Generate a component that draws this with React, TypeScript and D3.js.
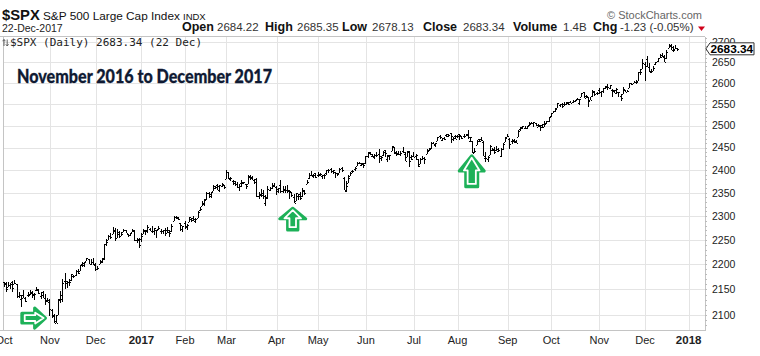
import React from "react";
import * as d3 from "d3";

type OHLC = [number, number, number, number]; // open, high, low, close

// ---- Daily OHLC, S&P 500 ($SPX), Oct 2016 .. 22 Dec 2017 ----
const oct2016: OHLC[] = [
  [2164.3, 2164.4, 2154.8, 2161.2], [2163.4, 2165.5, 2144.0, 2150.5], [2155.2, 2163.9, 2155.2, 2159.7],
  [2158.2, 2162.9, 2150.3, 2160.8], [2164.2, 2165.9, 2144.9, 2153.7], [2160.4, 2169.6, 2160.4, 2163.7],
  [2161.4, 2161.6, 2132.8, 2136.7], [2137.7, 2145.4, 2132.8, 2139.2], [2130.3, 2138.2, 2114.7, 2132.6],
  [2139.7, 2149.2, 2133.0, 2133.0], [2132.9, 2135.6, 2124.4, 2126.5], [2138.3, 2144.4, 2135.5, 2139.6],
  [2140.8, 2148.4, 2138.2, 2144.3], [2142.5, 2147.2, 2133.4, 2141.3], [2139.4, 2142.6, 2130.1, 2141.2],
  [2148.5, 2154.8, 2146.9, 2151.3], [2149.7, 2151.4, 2141.9, 2143.2], [2137.0, 2145.7, 2131.6, 2139.4],
  [2144.1, 2147.1, 2132.5, 2133.0], [2132.2, 2140.7, 2119.4, 2126.4], [2129.8, 2133.3, 2125.5, 2126.2],
];
const nov2016: OHLC[] = [
  [2128.7, 2131.5, 2097.9, 2111.7], [2109.4, 2111.8, 2094.0, 2097.9], [2100.0, 2102.6, 2085.2, 2088.7],
  [2083.8, 2099.1, 2083.8, 2085.2], [2100.6, 2132.0, 2100.6, 2131.5], [2129.9, 2146.9, 2123.6, 2139.6],
  [2131.6, 2170.1, 2125.4, 2163.3], [2167.5, 2182.3, 2151.2, 2167.5], [2162.7, 2165.9, 2152.5, 2164.5],
  [2165.6, 2171.4, 2156.1, 2164.2], [2168.3, 2180.8, 2166.4, 2180.4], [2177.5, 2179.2, 2172.2, 2176.9],
  [2178.6, 2188.1, 2176.7, 2187.1], [2186.8, 2189.9, 2180.4, 2181.9], [2186.4, 2198.7, 2186.4, 2198.2],
  [2201.6, 2204.8, 2194.5, 2202.9], [2198.6, 2204.7, 2194.5, 2204.7], [2206.3, 2213.4, 2206.3, 2213.4],
  [2210.2, 2211.1, 2200.4, 2201.7], [2200.8, 2210.5, 2198.2, 2204.7], [2205.0, 2214.1, 2198.8, 2198.8],
];
const dec2016: OHLC[] = [
  [2200.2, 2203.0, 2187.4, 2191.1], [2191.1, 2197.9, 2188.4, 2192.0], [2200.6, 2209.4, 2200.0, 2204.7],
  [2207.3, 2212.8, 2202.5, 2212.2], [2210.7, 2241.6, 2208.9, 2241.4], [2241.1, 2251.7, 2237.6, 2246.2],
  [2249.7, 2259.8, 2249.2, 2259.5], [2258.8, 2264.0, 2252.4, 2257.0], [2263.3, 2277.5, 2263.3, 2271.7],
  [2268.4, 2276.2, 2248.4, 2253.3], [2253.8, 2272.1, 2253.8, 2262.0], [2266.8, 2268.1, 2254.2, 2258.1],
  [2259.2, 2267.5, 2258.2, 2262.5], [2266.5, 2272.6, 2266.1, 2270.8], [2270.5, 2271.2, 2265.2, 2265.2],
  [2262.9, 2263.2, 2256.1, 2261.0], [2260.3, 2263.8, 2258.8, 2263.8], [2266.2, 2273.8, 2266.2, 2268.9],
  [2270.2, 2271.3, 2249.1, 2249.9], [2249.5, 2254.5, 2244.6, 2249.3], [2251.6, 2253.6, 2233.6, 2238.8],
];
const jan2017: OHLC[] = [
  [2251.6, 2263.9, 2245.1, 2257.8], [2261.6, 2272.8, 2261.6, 2270.8], [2268.2, 2271.5, 2260.5, 2269.0],
  [2271.1, 2282.1, 2264.1, 2277.0], [2273.6, 2275.5, 2268.9, 2268.9], [2269.0, 2279.3, 2265.3, 2268.9],
  [2268.6, 2275.3, 2260.8, 2275.3], [2271.1, 2271.8, 2254.3, 2270.4], [2272.7, 2278.7, 2271.5, 2274.6],
  [2269.1, 2272.1, 2262.8, 2267.9], [2269.1, 2272.0, 2263.4, 2271.9], [2271.9, 2274.3, 2258.4, 2263.7],
  [2270.0, 2277.0, 2265.0, 2271.3], [2267.8, 2271.8, 2257.0, 2265.2], [2267.9, 2284.6, 2266.7, 2280.1],
  [2288.9, 2299.6, 2288.9, 2298.4], [2298.6, 2301.0, 2294.1, 2296.7], [2299.0, 2299.0, 2291.6, 2294.7],
  [2286.0, 2286.0, 2268.0, 2280.9], [2274.0, 2279.1, 2267.2, 2278.9],
];
const feb2017: OHLC[] = [
  [2285.6, 2289.1, 2272.4, 2279.6], [2276.7, 2284.0, 2271.7, 2280.9], [2288.5, 2298.3, 2287.9, 2297.4],
  [2294.3, 2296.2, 2288.6, 2292.6], [2295.9, 2299.4, 2290.2, 2293.1], [2289.6, 2295.9, 2285.4, 2294.7],
  [2296.7, 2311.1, 2296.6, 2307.9], [2312.3, 2319.2, 2311.1, 2316.1], [2321.7, 2331.6, 2321.4, 2328.3],
  [2326.1, 2337.6, 2322.2, 2337.6], [2335.6, 2351.3, 2334.8, 2349.3], [2349.6, 2351.3, 2338.9, 2347.2],
  [2343.0, 2351.2, 2339.6, 2351.2], [2354.9, 2366.7, 2354.9, 2365.4], [2361.1, 2365.1, 2358.3, 2362.8],
  [2367.5, 2368.3, 2355.1, 2363.8], [2355.7, 2367.3, 2352.9, 2367.3], [2365.2, 2371.5, 2361.9, 2369.8],
  [2366.1, 2367.8, 2359.0, 2363.6],
];
const mar2017: OHLC[] = [
  [2380.1, 2401.0, 2380.1, 2396.0], [2394.8, 2394.8, 2380.2, 2381.9], [2380.9, 2383.9, 2375.1, 2383.1],
  [2375.2, 2378.8, 2368.0, 2375.3], [2370.7, 2375.1, 2365.5, 2368.4], [2369.8, 2373.1, 2361.0, 2363.0],
  [2363.5, 2369.1, 2354.5, 2364.9], [2372.5, 2376.9, 2363.0, 2372.6], [2371.6, 2374.4, 2368.5, 2373.5],
  [2368.6, 2368.6, 2358.2, 2365.5], [2370.3, 2390.0, 2368.9, 2385.3], [2387.7, 2388.1, 2377.2, 2381.4],
  [2383.7, 2385.7, 2377.6, 2378.3], [2378.2, 2379.6, 2369.7, 2373.5], [2379.3, 2381.9, 2341.9, 2344.0],
  [2343.0, 2351.8, 2336.5, 2348.5], [2345.1, 2358.9, 2342.1, 2346.0], [2350.4, 2356.2, 2335.7, 2344.0],
  [2329.1, 2344.9, 2322.3, 2341.6], [2339.8, 2363.8, 2337.6, 2358.6], [2356.5, 2363.4, 2353.3, 2361.1],
  [2361.3, 2370.4, 2358.6, 2368.1], [2364.8, 2370.4, 2362.6, 2362.7],
];
const apr2017: OHLC[] = [
  [2362.3, 2365.9, 2344.7, 2358.8], [2354.8, 2360.5, 2350.7, 2360.2], [2366.6, 2378.4, 2350.5, 2353.0],
  [2353.8, 2364.2, 2348.9, 2357.5], [2356.6, 2363.8, 2349.7, 2355.5], [2357.2, 2366.4, 2350.7, 2357.2],
  [2353.9, 2355.2, 2337.3, 2353.8], [2352.2, 2352.7, 2341.2, 2344.9], [2342.0, 2348.3, 2329.0, 2329.0],
  [2332.6, 2349.1, 2332.5, 2349.0], [2342.5, 2348.4, 2334.5, 2342.2], [2346.8, 2352.6, 2335.1, 2338.2],
  [2342.7, 2361.4, 2340.9, 2355.8], [2354.7, 2356.2, 2344.5, 2348.7], [2370.3, 2377.0, 2370.3, 2374.2],
  [2381.5, 2392.5, 2381.2, 2388.6], [2389.0, 2398.2, 2386.8, 2387.5], [2389.7, 2392.1, 2382.4, 2388.8],
  [2393.7, 2393.7, 2382.4, 2384.2],
];
const may2017: OHLC[] = [
  [2388.5, 2394.5, 2384.8, 2388.3], [2391.1, 2392.9, 2385.8, 2391.2], [2386.5, 2389.8, 2379.8, 2388.1],
  [2389.8, 2391.4, 2380.4, 2389.5], [2392.4, 2399.3, 2389.4, 2399.3], [2399.9, 2401.4, 2393.9, 2399.4],
  [2401.6, 2403.9, 2392.4, 2396.9], [2396.8, 2399.7, 2390.8, 2399.6], [2394.8, 2395.7, 2381.7, 2394.4],
  [2392.4, 2392.4, 2387.2, 2390.9], [2394.0, 2404.1, 2393.9, 2402.3], [2404.6, 2405.8, 2396.1, 2400.7],
  [2383.0, 2384.9, 2356.2, 2357.0], [2354.7, 2375.7, 2352.7, 2365.7], [2371.4, 2389.1, 2370.4, 2381.7],
  [2387.2, 2395.5, 2386.9, 2394.0], [2397.0, 2400.9, 2393.9, 2398.4], [2401.4, 2405.6, 2398.0, 2404.4],
  [2409.5, 2418.7, 2408.0, 2415.1], [2414.5, 2416.7, 2412.2, 2415.8], [2411.7, 2415.3, 2409.4, 2412.9],
  [2415.6, 2416.0, 2403.6, 2411.8],
];
const jun2017: OHLC[] = [
  [2415.7, 2430.1, 2413.5, 2430.1], [2431.3, 2440.2, 2427.7, 2439.1], [2437.8, 2439.5, 2434.3, 2436.1],
  [2431.9, 2436.2, 2428.1, 2429.3], [2432.0, 2435.3, 2424.8, 2433.1], [2434.3, 2439.3, 2427.9, 2433.8],
  [2436.4, 2446.2, 2415.7, 2431.8], [2425.9, 2430.4, 2420.0, 2429.4], [2434.2, 2441.5, 2431.3, 2440.4],
  [2443.8, 2443.8, 2428.3, 2437.9], [2424.1, 2434.0, 2418.5, 2432.5], [2431.2, 2433.2, 2422.9, 2433.2],
  [2442.6, 2453.8, 2441.8, 2453.5], [2450.7, 2450.7, 2436.6, 2437.0], [2439.3, 2442.2, 2430.7, 2435.6],
  [2437.4, 2441.6, 2433.3, 2434.5], [2434.7, 2441.4, 2431.1, 2438.3], [2443.3, 2450.4, 2437.6, 2439.1],
  [2436.3, 2441.0, 2419.4, 2419.4], [2428.7, 2442.0, 2428.0, 2440.7], [2442.4, 2442.7, 2405.7, 2419.7],
  [2429.2, 2432.7, 2422.9, 2423.4],
];
const jul2017: OHLC[] = [
  [2431.4, 2439.2, 2428.7, 2429.0], [2430.2, 2434.8, 2422.1, 2432.5], [2423.4, 2424.3, 2407.7, 2409.8],
  [2413.5, 2426.9, 2413.5, 2425.2], [2424.5, 2432.0, 2422.3, 2427.4], [2427.4, 2429.3, 2412.8, 2425.5],
  [2435.8, 2445.8, 2435.6, 2443.3], [2444.0, 2449.3, 2441.7, 2447.8], [2449.2, 2463.5, 2446.7, 2459.3],
  [2459.5, 2462.8, 2457.2, 2459.1], [2455.9, 2460.9, 2450.3, 2460.6], [2463.9, 2473.8, 2463.9, 2473.8],
  [2475.6, 2477.6, 2468.4, 2473.5], [2467.4, 2472.5, 2465.1, 2472.5], [2472.0, 2473.1, 2466.3, 2469.9],
  [2477.9, 2481.2, 2474.9, 2477.1], [2480.0, 2481.7, 2474.9, 2477.8], [2482.8, 2484.0, 2459.9, 2475.4],
  [2469.1, 2473.5, 2464.7, 2472.1], [2475.9, 2478.0, 2468.5, 2470.3],
];
const aug2017: OHLC[] = [
  [2477.1, 2478.5, 2471.1, 2476.4], [2480.4, 2480.4, 2466.5, 2477.6], [2476.0, 2476.0, 2468.9, 2472.2],
  [2476.9, 2480.0, 2472.1, 2476.8], [2477.1, 2480.9, 2475.9, 2480.9], [2478.4, 2490.9, 2470.3, 2474.9],
  [2465.4, 2474.4, 2462.1, 2474.0], [2465.4, 2465.4, 2437.8, 2438.2], [2441.0, 2448.1, 2437.9, 2441.3],
  [2455.0, 2468.2, 2455.0, 2465.8], [2468.6, 2468.6, 2461.6, 2464.6], [2470.6, 2474.9, 2463.9, 2468.1],
  [2462.9, 2465.0, 2430.0, 2430.0], [2427.6, 2440.3, 2417.4, 2425.6], [2425.5, 2430.6, 2417.4, 2428.4],
  [2433.8, 2454.8, 2433.7, 2452.5], [2444.9, 2448.9, 2441.4, 2444.0], [2447.9, 2450.4, 2436.2, 2439.0],
  [2444.7, 2454.0, 2442.2, 2443.1], [2447.4, 2449.1, 2439.0, 2444.2], [2431.9, 2449.2, 2428.2, 2446.3],
  [2446.1, 2460.3, 2443.8, 2457.6], [2462.7, 2475.0, 2462.7, 2471.7],
];
const sep2017: OHLC[] = [
  [2474.4, 2480.4, 2473.8, 2476.6], [2470.4, 2472.0, 2446.6, 2457.9], [2463.8, 2469.6, 2458.0, 2465.5],
  [2468.1, 2468.6, 2460.3, 2465.1], [2462.3, 2467.1, 2459.4, 2461.4], [2474.5, 2489.0, 2474.5, 2488.1],
  [2491.9, 2496.8, 2488.0, 2496.5], [2493.9, 2498.4, 2492.1, 2498.4], [2494.6, 2498.4, 2491.4, 2495.6],
  [2495.7, 2500.2, 2493.2, 2500.2], [2502.5, 2508.3, 2499.9, 2503.9], [2506.3, 2507.8, 2503.2, 2506.7],
  [2506.8, 2508.9, 2496.7, 2508.2], [2507.2, 2507.2, 2499.0, 2500.6], [2497.3, 2503.5, 2496.5, 2502.2],
  [2499.4, 2502.5, 2488.0, 2496.7], [2501.0, 2503.5, 2495.1, 2496.8], [2503.3, 2511.8, 2495.9, 2507.0],
  [2503.4, 2510.8, 2502.9, 2510.1], [2510.0, 2519.4, 2507.8, 2519.4],
];
const oct2017: OHLC[] = [
  [2521.2, 2529.2, 2520.4, 2529.1], [2530.3, 2535.1, 2528.9, 2534.6], [2533.5, 2540.5, 2531.8, 2537.7],
  [2540.9, 2552.5, 2540.0, 2552.1], [2547.4, 2549.4, 2543.8, 2549.3], [2551.4, 2551.8, 2541.6, 2544.7],
  [2550.0, 2555.2, 2544.9, 2550.6], [2550.6, 2555.2, 2547.9, 2555.2], [2552.9, 2555.3, 2548.3, 2550.9],
  [2555.7, 2557.7, 2553.0, 2553.2], [2555.6, 2559.5, 2552.6, 2557.6], [2557.2, 2559.7, 2554.7, 2559.4],
  [2562.9, 2564.1, 2559.7, 2561.3], [2553.4, 2562.4, 2547.9, 2562.1], [2567.6, 2575.4, 2567.6, 2575.2],
  [2578.1, 2578.3, 2564.3, 2565.0], [2568.7, 2572.2, 2565.6, 2569.1], [2566.5, 2567.4, 2544.0, 2557.2],
  [2560.1, 2567.1, 2559.8, 2560.4], [2570.3, 2583.0, 2565.9, 2581.1], [2577.8, 2580.0, 2568.4, 2572.8],
  [2576.0, 2578.3, 2572.2, 2575.3],
];
const nov2017: OHLC[] = [
  [2583.2, 2588.4, 2574.9, 2579.4], [2579.5, 2581.1, 2566.2, 2579.9], [2581.9, 2588.4, 2576.8, 2587.8],
  [2587.5, 2593.4, 2585.7, 2591.1], [2592.1, 2597.0, 2584.1, 2590.6], [2588.7, 2595.5, 2585.0, 2594.4],
  [2584.0, 2586.5, 2566.3, 2584.6], [2580.2, 2583.8, 2575.6, 2582.3], [2576.5, 2587.7, 2574.5, 2584.8],
  [2577.8, 2579.7, 2566.6, 2578.9], [2569.4, 2572.8, 2557.4, 2564.6], [2572.9, 2590.1, 2572.9, 2585.6],
  [2582.9, 2584.0, 2577.6, 2578.9], [2579.5, 2584.6, 2578.2, 2582.1], [2589.2, 2601.2, 2589.2, 2599.0],
  [2600.3, 2600.9, 2596.3, 2597.1], [2600.4, 2604.2, 2600.4, 2602.4], [2602.7, 2606.4, 2598.9, 2601.4],
  [2605.9, 2627.7, 2605.4, 2627.0], [2627.8, 2634.9, 2620.3, 2626.1], [2633.9, 2657.7, 2633.9, 2647.6],
];
const dec2017: OHLC[] = [
  [2645.1, 2650.6, 2605.5, 2642.2], [2657.2, 2665.2, 2639.0, 2639.4], [2639.8, 2648.7, 2627.7, 2629.6],
  [2626.2, 2634.4, 2624.8, 2629.3], [2628.4, 2641.0, 2628.0, 2637.0], [2646.2, 2651.7, 2644.1, 2651.5],
  [2652.2, 2660.3, 2651.5, 2660.0], [2661.7, 2669.7, 2659.8, 2664.1], [2667.6, 2671.9, 2662.9, 2662.9],
  [2665.9, 2668.1, 2652.0, 2652.0], [2660.6, 2679.6, 2659.1, 2675.8], [2685.9, 2695.0, 2685.9, 2690.2],
  [2692.7, 2694.4, 2680.7, 2681.5], [2688.2, 2691.0, 2676.1, 2679.3], [2683.0, 2692.6, 2682.4, 2684.6],
  [2684.2, 2685.4, 2678.1, 2683.3],
];

// Calendar: month labels and number of trading days in each month
const MONTH_LABELS = ["Oct", "Nov", "Dec", "2017", "Feb", "Mar", "Apr", "May", "Jun", "Jul", "Aug", "Sep", "Oct", "Nov", "Dec", "2018"];
const MONTH_TRADING_DAYS = [21, 21, 21, 20, 19, 23, 19, 22, 22, 20, 23, 20, 22, 21, 20];
const Y_TICKS = [2100, 2150, 2200, 2250, 2300, 2350, 2400, 2450, 2500, 2550, 2600, 2650, 2700];

// Header values
const LAST = { date: "22-Dec-2017", open: "2684.22", high: "2685.35", low: "2678.13", close: "2683.34", volume: "1.4B", chg: "-1.23 (-0.05%)" };
const LAST_CLOSE = 2683.34;

// Annotation arrows anchored at (trading-day index, price)
const ARROWS = [
  { index: 20.1, price: 2094, dir: "right" },
  { index: 132.4, price: 2322, dir: "up" },
  { index: 214.5, price: 2437, dir: "up" },
];

const GREEN = "#1db158";
const SANS = "'Liberation Sans', Arial, sans-serif";

function arrowPaths(len: number, headW: number, headL: number, shaftW: number) {
  // outer shape shrunk by half the (round) stroke so the painted size matches len/headW
  const s = 1.5;
  const hw = headW / 2 - s, sw = shaftW / 2 - s, L = len - s, t = s * 1.6;
  const outer = `M0,${t} L${hw},${headL} L${sw},${headL} L${sw},${L} L${-sw},${L} L${-sw},${headL} L${-hw},${headL} Z`;
  const iw = headW / 2 - 6.2, is = shaftW / 2 - 3.4, ih = headL - 0.6, it = 4.3, il = len - 4.4;
  const inner = `M0,${it} L${iw},${ih} L${is},${ih} L${is},${il} L${-is},${il} L${-is},${ih} L${-iw},${ih} Z`;
  return { outer, inner };
}

export default function App() {
  const W = 760, H = 356;
  const left = 3, right = 705, top = 36.5, bottom = 330;
  const bars: OHLC[] = [
    ...oct2016, ...nov2016, ...dec2016, ...jan2017, ...feb2017, ...mar2017, ...apr2017,
    ...may2017, ...jun2017, ...jul2017, ...aug2017, ...sep2017, ...oct2017, ...nov2017, ...dec2017,
  ];
  const x = d3.scaleLinear().domain([-0.5, 321.5]).range([left, right]);
  const y = d3.scaleLog().domain([2071.2, 2713.9]).range([bottom, top]);

  const monthStarts: number[] = [0];
  MONTH_TRADING_DAYS.forEach((n, i) => monthStarts.push(monthStarts[i] + n));

  let barPath = "";
  let tickPath = "";
  bars.forEach(([o, h, l, c], i) => {
    const xi = Math.floor(x(i));
    const yh = Math.round(y(h));
    const yl = Math.max(Math.round(y(l)), yh + 1);
    barPath += `M${xi},${yh}h1V${yl}h-1Z`;
    const yo = Math.round(y(o)) - 0.5;
    const yc = Math.round(y(c)) - 0.5;
    tickPath += `M${xi - 1},${yo}h1v1h-1ZM${xi + 1},${yc}h1v1h-1Z`;
  });

  const minorTicks = d3.range(2080, 2711, 10);
  const yLast = y(LAST_CLOSE);

  return (
    <div style={{ position: "absolute", left: 0, top: 0 }}>
      <svg width={W} height={H} style={{ display: "block", background: "#fff" }}>
        <rect x={0} y={0} width={W} height={H} fill="#fff" />
        {/* Header */}
        <text x={2} y={19.5} fontFamily={SANS} fontWeight="bold" fontSize={14.8} fill="#111">$SPX</text>
        <text x={43} y={19.5} fontFamily={SANS} fontSize={11.8} fill="#111">S&amp;P 500 Large Cap Index</text>
        <text x={183} y={19.5} fontFamily={SANS} fontSize={9.5} fill="#111">INDX</text>
        <text x={607} y={18.5} fontFamily={SANS} fontSize={11} fill="#666">© StockCharts.com</text>
        <text x={2} y={31.5} fontFamily={SANS} fontSize={10.5} fill="#222">{LAST.date}</text>
        <g fontFamily={SANS} fill="#111">
          <text x={182} y={31} fontWeight="bold" fontSize={12.5}>Open</text>
          <text x={217} y={31} fontSize={11.5} fill="#333">{LAST.open}</text>
          <text x={265} y={31} fontWeight="bold" fontSize={12.5}>High</text>
          <text x={297} y={31} fontSize={11.5} fill="#333">{LAST.high}</text>
          <text x={342} y={31} fontWeight="bold" fontSize={12.5}>Low</text>
          <text x={372} y={31} fontSize={11.5} fill="#333">{LAST.low}</text>
          <text x={423} y={31} fontWeight="bold" fontSize={12.5}>Close</text>
          <text x={463} y={31} fontSize={11.5} fill="#333">{LAST.close}</text>
          <text x={513} y={31} fontWeight="bold" fontSize={12.5}>Volume</text>
          <text x={563} y={31} fontSize={11.5} fill="#333">{LAST.volume}</text>
          <text x={593} y={31} fontWeight="bold" fontSize={12.5}>Chg</text>
          <text x={620} y={31} fontSize={11.5} fill="#333">{LAST.chg}</text>
        </g>
        <path d="M698,26.5 L705,26.5 L701.5,31 Z" fill="#d0021b" />

        {/* Grid */}
        <g stroke="#e4e4e4" strokeWidth={1} shapeRendering="crispEdges">
          {Y_TICKS.map((v) => {
            const yy = Math.round(y(v)) + 0.5;
            return <line key={v} x1={left} x2={right} y1={yy} y2={yy} />;
          })}
          {monthStarts.map((s, i) => {
            const xx = Math.round(x(s)) + 0.5;
            return xx > left + 2 ? <line key={i} x1={xx} x2={xx} y1={top} y2={bottom} /> : null;
          })}
        </g>
        {/* Plot frame */}
        <g stroke="#c4c4c4" strokeWidth={1} fill="none" shapeRendering="crispEdges">
          <line x1={0} x2={right} y1={36.5} y2={36.5} />
          <line x1={left + 0.5} x2={left + 0.5} y1={top} y2={bottom} />
          <line x1={0} x2={right} y1={bottom + 0.5} y2={bottom + 0.5} />
          <line x1={right + 0.5} x2={right + 0.5} y1={top} y2={bottom + 1} />
        </g>
        <g stroke="#bbb" strokeWidth={1} shapeRendering="crispEdges">
          {minorTicks.map((v) => {
            const yy = Math.round(y(v)) + 0.5;
            return <line key={v} x1={right} x2={right + 2} y1={yy} y2={yy} />;
          })}
        </g>

        {/* Legend */}
        <g stroke="#555" strokeWidth={0.9} fill="none">
          <path d="M4,46 V39.5 M2.6,41.2 L4,39.5 L5.4,41.2" />
          <path d="M7.2,39.5 V46 M5.8,44.3 L7.2,46 L8.6,44.3" />
        </g>
        <text x={10} y={45.5} fontFamily="'DejaVu Sans Mono', monospace" fontSize={11} fill="#222">$SPX (Daily) 2683.34 (22 Dec)</text>

        {/* Title */}
        <text x={17} y={82.5} fontFamily="Lato, 'Open Sans', sans-serif" fontWeight="900" fontSize={19}
          fill="#0f1a33" stroke="#0f1a33" strokeWidth={0.3} textLength={255} lengthAdjust="spacingAndGlyphs">November 2016 to December 2017</text>

        {/* Price bars */}
        <g shapeRendering="crispEdges" fill="#000">
          <path d={barPath} />
          <path d={tickPath} />
        </g>

        {/* Y axis labels */}
        <g fontFamily={SANS} fontSize={10.5} fill="#222">
          {Y_TICKS.map((v) => (
            <text key={v} x={712} y={y(v) + 3.8}>{v}</text>
          ))}
        </g>
        {/* Last price marker */}
        <path d={`M706,${yLast} L710,${yLast - 6} L754,${yLast - 6} L754,${yLast + 6} L710,${yLast + 6} Z`}
          fill="#fff" stroke="#333" strokeWidth={1} />
        <text x={710.5} y={yLast + 4.3} fontFamily={SANS} fontWeight="bold" fontSize={11.8} fill="#000">2683.34</text>

        {/* X axis labels */}
        <g fontFamily={SANS} fontSize={11} fill="#222" textAnchor="middle">
          {MONTH_LABELS.map((lab, i) => (
            <text key={i} x={x(monthStarts[i])} y={343.5}
              fontWeight={/^\d{4}$/.test(lab) ? "bold" : "normal"} fontSize={/^\d{4}$/.test(lab) ? 11.5 : 11}>{lab}</text>
          ))}
        </g>

        {/* Green arrows */}
        {ARROWS.map((a, i) => {
          const tx = x(a.index), ty = y(a.price);
          const dims = a.dir === "right" ? [27.6, 23.3, 13.3, 12.6] : i === 1 ? [25.7, 29, 13, 13.3] : [35, 28, 17.7, 15];
          const { outer, inner } = arrowPaths(dims[0], dims[1], dims[2], dims[3]);
          const rot = a.dir === "right" ? 90 : 0;
          return (
            <g key={i} transform={`translate(${tx},${ty}) rotate(${rot})`}>
              <path d={outer} fill={GREEN} stroke={GREEN} strokeWidth={3} strokeLinejoin="round" />
              <path d={inner} fill={GREEN} stroke="#fff" strokeWidth={1.8} strokeLinejoin="round" />
            </g>
          );
        })}
      </svg>
    </div>
  );
}
